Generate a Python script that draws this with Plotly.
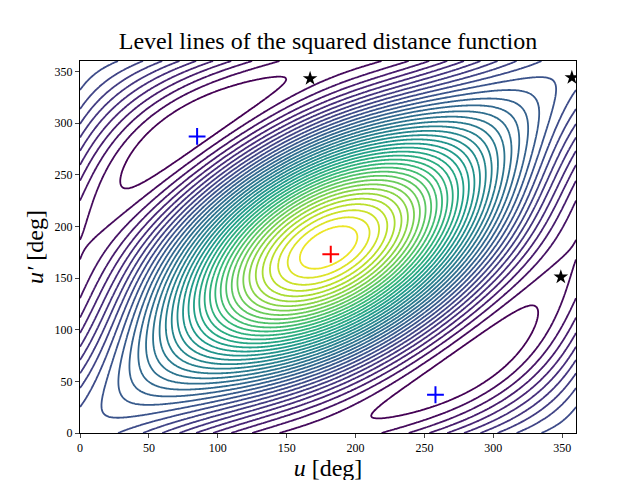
import numpy as np
import plotly.graph_objects as go

# orbit parameters (a, e, omega, inclination)
a1, e1 = 1.0, 0.3
a2, e2, om2, inc2 = 1.05, 0.32, 181.0, 22.0

crosses_min_u = [85, 258]
crosses_min_up = [287, 37]
max_u = [182]
max_up = [173]
saddle_u = [167, 357, 349]
saddle_up = [343, 344, 151]

u = np.linspace(0, 360, 361)
U, UP = np.meshgrid(np.radians(u), np.radians(u))
x1 = a1 * (np.cos(U) - e1); y1 = a1 * np.sqrt(1 - e1**2) * np.sin(U); z1 = 0 * U
xp = a2 * (np.cos(UP) - e2); yp = a2 * np.sqrt(1 - e2**2) * np.sin(UP)
w = np.radians(om2); i = np.radians(inc2)
xr = xp * np.cos(w) - yp * np.sin(w); yr = xp * np.sin(w) + yp * np.cos(w)
x2 = xr; y2 = yr * np.cos(i); z2 = yr * np.sin(i)
D = (x1 - x2)**2 + (y1 - y2)**2 + (z1 - z2)**2
dmin, dmax = float(D.min()), float(D.max())
nlev = 40

fig = go.Figure()
fig.add_trace(go.Contour(x=u, y=u, z=D, colorscale="Viridis", showscale=False, autocontour=False,
                         contours=dict(coloring="lines", start=dmin + (dmax - dmin) / nlev,
                                       end=dmax, size=(dmax - dmin) / nlev),
                         line=dict(width=1.8)))
fig.add_trace(go.Scatter(x=crosses_min_u, y=crosses_min_up, mode="markers",
                         marker=dict(symbol="cross-thin", size=12, line=dict(color="blue", width=2))))
fig.add_trace(go.Scatter(x=max_u, y=max_up, mode="markers",
                         marker=dict(symbol="cross-thin", size=12, line=dict(color="red", width=2))))
fig.add_trace(go.Scatter(x=saddle_u, y=saddle_up, mode="markers",
                         marker=dict(symbol="star", size=11, color="black")))
font = "Liberation Serif"
fig.update_layout(width=640, height=480, showlegend=False, plot_bgcolor="white",
                  margin=dict(l=72, r=72, t=53, b=53),
                  title=dict(text="Level lines of the squared distance function", x=0.5,
                             y=0.915, yanchor="bottom", font=dict(family=font, size=24, color="black")),
                  font=dict(family=font, color="black"))
ax = dict(range=[0, 360], dtick=50, showgrid=False, zeroline=False, showline=True, mirror=True,
          linecolor="black", ticks="outside", ticklen=4, tickfont=dict(size=12))
fig.update_xaxes(**ax, title=dict(text="<i>u</i> [deg]", font=dict(size=24), standoff=4))
fig.update_yaxes(**ax, title=dict(text="<i>u′</i> [deg]", font=dict(size=24), standoff=4))
fig.write_html("out.html")
